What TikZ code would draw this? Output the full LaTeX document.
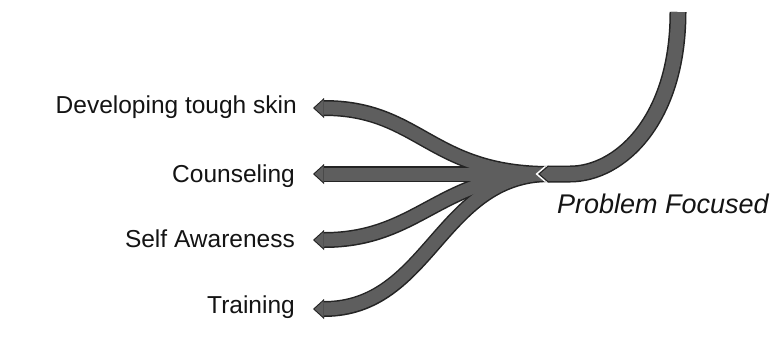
\documentclass[tikz,border=0pt]{standalone}
\usepackage{fontspec}
\setmainfont{Liberation Sans}
\usetikzlibrary{arrows.meta}
\definecolor{flowfill}{HTML}{5E5E5E}
\definecolor{flowedge}{HTML}{242424}
\begin{document}
\begin{tikzpicture}[x=1pt,y=-1pt,
  lbl/.style={font=\fontsize{24.5}{29}\selectfont, inner sep=0pt, anchor=base east, text=black!92},
  ttl/.style={font=\fontsize{27}{31}\selectfont\itshape, inner sep=0pt, anchor=base west, text=black!92},
  edgepass/.style={draw=flowedge, line width=16pt, -{Triangle[length=11pt,width=20pt,line width=0pt]}},
  fillpass/.style={draw=flowfill, line width=13pt, shorten >=1.6pt, -{Triangle[length=9pt,width=16.5pt,line width=0pt]}},
  mainwhite/.style={draw=white, line width=17pt, shorten >=-2.5pt, -{Triangle[length=10pt,width=17pt,line width=0pt]}},
  mainedge/.style={draw=flowedge, line width=17pt, -{Triangle[length=10pt,width=17pt,line width=0pt]}},
  mainfill/.style={draw=flowfill, line width=14pt, shorten >=2pt, -{Triangle[length=8.2pt,width=14pt,line width=0pt]}},
]
\useasboundingbox[fill=white] (0,0) rectangle (778,360);

% labels
\node[lbl] (dev) at (297,113) {Developing tough skin};
\node[lbl] (cou) at (295,182) {Counseling};
\node[lbl] (sel) at (295,247) {Self Awareness};
\node[lbl] (tra) at (295,313) {Training};
\node[ttl] (pf) at (557,213) {Problem Focused};

% connector points
\coordinate (j) at (550,174);
\coordinate (t1) at (313,108);
\coordinate (t2) at (313,174);
\coordinate (t3) at (313,240);
\coordinate (t4) at (313,309);
\coordinate (top) at (678,12);
\coordinate (mtip) at (538,174);

% branches: outline pass
\draw[edgepass] (j) .. controls (430,174) and (420,108) .. (t1);
\draw[edgepass] (j) -- (t2);
\draw[edgepass] (j) .. controls (440,174) and (420,240) .. (t3);
\draw[edgepass] (j) .. controls (440,174) and (430,309) .. (t4);
% branches: fill pass
\draw[fillpass] (j) .. controls (430,174) and (420,108) .. (t1);
\draw[fillpass] (j) -- (t2);
\draw[fillpass] (j) .. controls (440,174) and (420,240) .. (t3);
\draw[fillpass] (j) .. controls (440,174) and (430,309) .. (t4);

% main incoming stream
\draw[mainwhite] (top) .. controls (678,120) and (620,174) .. (570,174) -- (mtip);
\draw[mainedge] (top) .. controls (678,120) and (620,174) .. (570,174) -- (mtip);
\draw[mainfill] (top) .. controls (678,120) and (620,174) .. (570,174) -- (mtip);
\end{tikzpicture}
\end{document}
